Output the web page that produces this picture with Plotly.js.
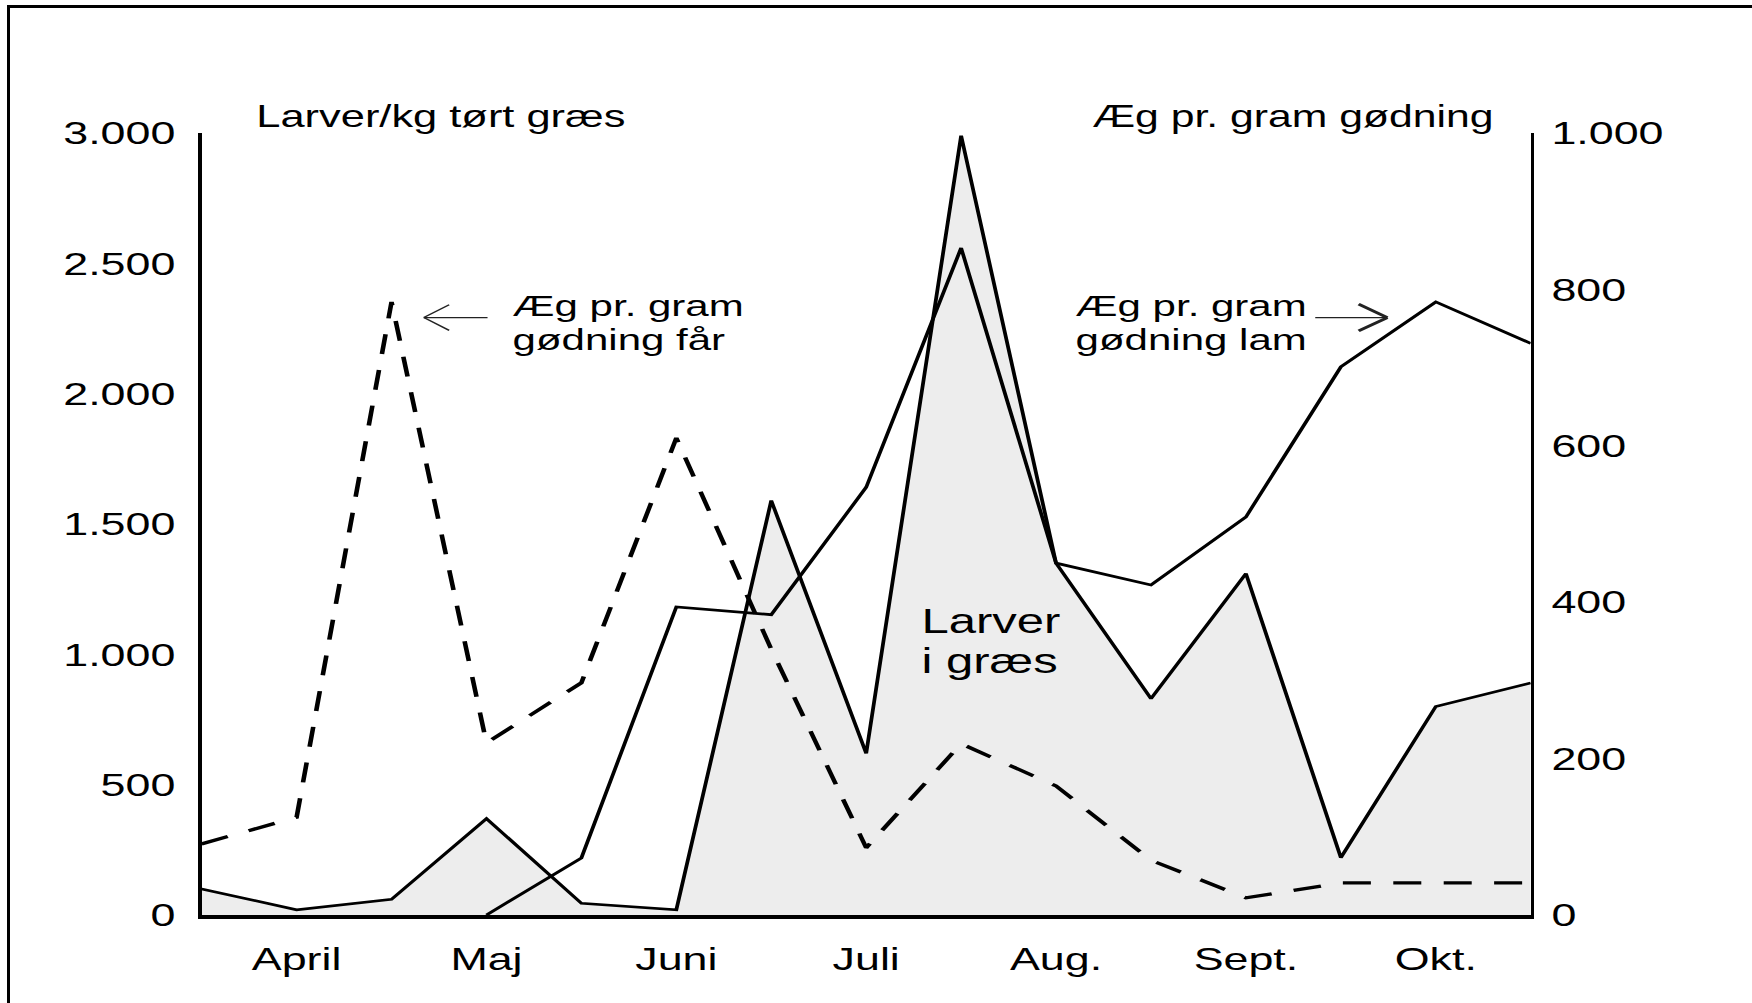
<!DOCTYPE html>
<html><head><meta charset="utf-8">
<script src="https://cdn.plot.ly/plotly-3.0.1.min.js"></script>
<style>
html,body{margin:0;padding:0;background:#fff;width:1752px;height:1003px;overflow:hidden;}
#frame{position:absolute;left:7px;top:5px;right:-10px;bottom:-10px;border-top:3px solid #000;border-left:3px solid #000;pointer-events:none;}
#chart{position:absolute;left:0;top:0;transform-origin:0 0;}
</style></head>
<body><div id="chart"></div><div id="frame"></div>
<script>
// ---- data ----
const samplingDates = ['1. apr','15. apr','1. maj','15. maj','1. jun','15. jun','1. jul','15. jul','1. aug','15. aug','1. sep','15. sep','1. okt','15. okt','1. nov'];
const monthTicks  = ['15. apr','15. maj','15. jun','15. jul','15. aug','15. sep','15. okt'];
const monthLabels = ['April','Maj','Juni','Juli','Aug.','Sept.','Okt.'];
const larverTicks = [0,500,1000,1500,2000,2500,3000];
const aegTicks    = [0,200,400,600,800,1000];

// Larver/kg tørt græs (left axis)
const larverGraes = [100,20,60,370,45,20,1590,620,2990,1350,830,1310,220,800,890];
// Æg pr. gram gødning, lam (right axis)
const aegLam  = [null,null,null,0,73,394,384,547,853,450,422,509,701,784,731];
// Æg pr. gram gødning, får (right axis)
const aegFaar = [91,125,784,220,297,610,340,86,219,165,70,22,41,41,41];

// ---- page geometry (reference artwork is stretched horizontally) ----
const STRETCH = 1.4;
const W = Math.round(1752 / STRETCH);
const S = 1752 / W;
const H = 1003;
const FONT = 'Liberation Sans, Arial, Helvetica, sans-serif';

const chart = document.getElementById('chart');
chart.style.width = W + 'px';
chart.style.height = H + 'px';
chart.style.transform = 'scaleX(' + S + ')';

const traces = [
  {type:'scatter', mode:'lines', x:samplingDates, y:larverGraes, yaxis:'y',
   fill:'tozeroy', fillcolor:'#ededed', line:{color:'#000', width:2.7}, hoverinfo:'skip', name:'Larver i græs'},
  {type:'scatter', mode:'lines', x:samplingDates, y:aegLam, yaxis:'y2',
   line:{color:'#000', width:2.7}, hoverinfo:'skip', name:'Æg pr. gram gødning lam'},
  {type:'scatter', mode:'lines', x:samplingDates, y:aegFaar, yaxis:'y2',
   line:{color:'#000', width:3.3, dash:'20px,16px'}, hoverinfo:'skip', name:'Æg pr. gram gødning får'}
];

function txt(text, x, y, xanchor, size) {
  return {text:text, xref:'paper', yref:'paper', x:x, y:y, xanchor:xanchor, yanchor:'middle',
          showarrow:false, font:{family:FONT, size:size || 30, color:'#000'}};
}
function seg(x, y, ax, ay, w) {
  return {text:' ', xref:'x', yref:'y2', x:x, y:y, ax:ax, ay:ay, showarrow:true, arrowhead:0,
          arrowwidth:w, arrowcolor:'#222', font:{size:1}, borderpad:0, standoff:0, startstandoff:0};
}

const annotations = [
  txt('Larver/kg tørt græs', 0.0387, 1.0217, 'left', 31),
  txt('Æg pr. gram gødning', 0.9744, 1.0213, 'right', 30.5),
  txt('Æg pr. gram', 0.2318, 0.780, 'left'),
  txt('gødning får', 0.2318, 0.7363, 'left'),
  txt('Æg pr. gram', 0.6553, 0.7788, 'left'),
  txt('gødning lam', 0.6553, 0.7362, 'left'),
  txt('Larver', 0.539, 0.3762, 'left', 35),
  txt('i græs', 0.539, 0.3258, 'left', 35),
  // arrow to the ewe curve
  seg(2.34, 764, 46, 0, 1.3),
  seg(2.34, 764, 18.6, -13.2, 1.3),
  seg(2.34, 764, 18.6, 13.2, 1.3),
  // arrow to the lamb curve
  seg(12.49, 764, -52, 0, 1.3),
  seg(12.49, 764, -21, -13.7, 2.8),
  seg(12.49, 764, -21, 13.7, 2.8)
];

const axisFont = {family:FONT, size:32, color:'#000'};
const layout = {
  width: W, height: H,
  margin: {l: 201 / S, r: W - 1531 / S, t: 133, b: H - 915, pad: 0},
  paper_bgcolor:'#fff', plot_bgcolor:'#fff',
  showlegend:false, hovermode:false,
  separators: ',.',
  font: axisFont,
  xaxis: {type:'category', range:[0,14], tickmode:'array', tickvals:monthTicks, ticktext:monthLabels,
          showline:true, linecolor:'#000', linewidth:3.6, ticks:'', showgrid:false, zeroline:false,
          tickfont:axisFont, ticklabelstandoff:13, fixedrange:true},
  yaxis: {range:[0,3000], tickmode:'array', tickvals:larverTicks, tickformat:',d',
          showline:true, linecolor:'#000', linewidth:2.4, ticks:'', showgrid:false, zeroline:false,
          tickfont:axisFont, ticklabelstandoff:10, fixedrange:true},
  yaxis2: {overlaying:'y', side:'right', range:[0,1000], tickmode:'array', tickvals:aegTicks, tickformat:',d',
          showline:true, linecolor:'#000', linewidth:2.4, ticks:'', showgrid:false, zeroline:false,
          tickfont:axisFont, ticklabelstandoff:6, fixedrange:true},
  annotations: annotations
};

Plotly.newPlot(chart, traces, layout, {displayModeBar:false, staticPlot:true});
</script></body></html>
